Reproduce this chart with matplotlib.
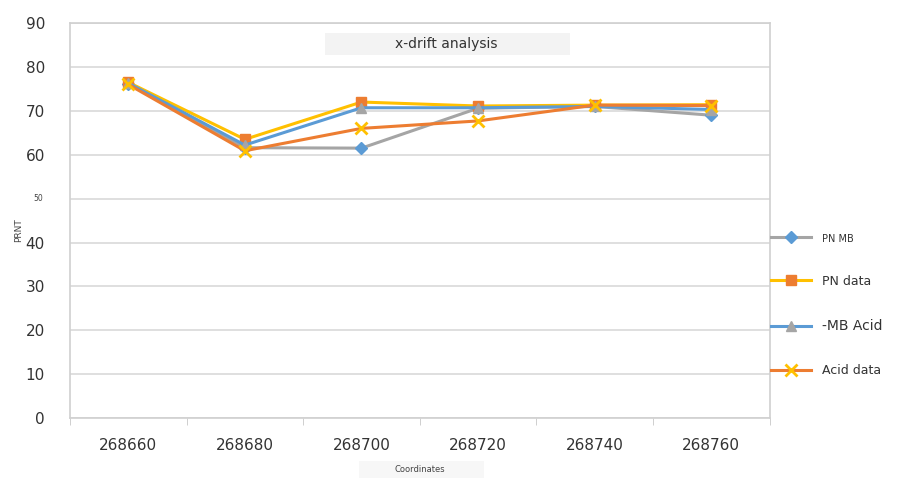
import matplotlib.pyplot as plt
from matplotlib.patches import Rectangle

# x-drift data
coords = ['268660', '268680', '268700', '268720', '268740', '268760']
pn_mb = [76.2, 61.6, 61.5, 70.6, 71.0, 69.0]
pn_data = [76.5, 63.5, 72.0, 71.1, 71.3, 71.4]
mb_acid = [76.3, 62.2, 70.7, 70.7, 71.0, 70.3]
acid_data = [76.0, 60.9, 66.0, 67.7, 71.3, 71.2]
y_ticks = [0, 10, 20, 30, 40, 50, 60, 70, 80, 90]

blue = '#5B9BD5'
orange = '#ED7D31'
gray = '#A5A5A5'
yellow = '#FFC000'

fig = plt.figure(figsize=(8.97, 4.8), dpi=100)
ax = fig.add_axes([0.078, 0.129, 0.780, 0.823])

x = range(len(coords))
ax.plot(x, pn_mb, color=gray, lw=2.2, marker='D', ms=6,
        mfc=blue, mec=blue, label='PN MB')
ax.plot(x, pn_data, color=yellow, lw=2.2, marker='s', ms=7,
        mfc=orange, mec=orange, label='PN data')
ax.plot(x, mb_acid, color=blue, lw=2.2, marker='^', ms=7,
        mfc=gray, mec=gray, label='-MB Acid')
ax.plot(x, acid_data, color=orange, lw=2.2, marker='x', ms=8, mew=2,
        mfc=yellow, mec=yellow, label='Acid data')

ax.set_xlim(-0.5, len(coords) - 0.5)
ax.set_ylim(0, 90)
ax.set_yticks(y_ticks)
ax.set_yticklabels([str(v) if v != 50 else '' for v in y_ticks])
ax.set_xticks(list(x))
ax.set_xticklabels(coords)
ax.set_xticks([i - 0.5 for i in range(len(coords) + 1)], minor=True)
ax.tick_params(axis='x', which='major', length=0, pad=14, labelsize=11,
               labelcolor='#333333')
ax.tick_params(axis='x', which='minor', length=5, color='#c8c8c8')
ax.tick_params(axis='y', length=0, pad=18, labelsize=11, labelcolor='#333333')
ax.grid(axis='y', color='#d9d9d9', lw=1.2)
ax.set_axisbelow(True)
for s in ax.spines.values():
    s.set_color('#d0d0d0')
    s.set_linewidth(1.2)

# small odd labels from the original figure
fig.text(0.037, 0.582, '50', fontsize=5.5, color='#444444')
fig.text(0.021, 0.52, 'PRNT', rotation=90, fontsize=6.5, color='#444444',
         ha='center', va='center')

ax.add_patch(Rectangle((1.685, 82.7), 2.1, 5.0, facecolor='#f3f3f3',
                       edgecolor='none', zorder=1))
ax.text(2.73, 85.2, 'x-drift analysis', ha='center', va='center',
        fontsize=10, color='#333333', zorder=2)

fig.patches.append(Rectangle((0.40, 0.005), 0.14, 0.035, facecolor='#f7f7f7',
                             edgecolor='none', transform=fig.transFigure))
fig.text(0.468, 0.022, 'Coordinates', ha='center', va='center', fontsize=6,
         color='#444444')

leg = ax.legend(loc='center left', bbox_to_anchor=(0.995, 0.286), frameon=False,
                handlelength=3.2, labelspacing=2.5, fontsize=9,
                borderaxespad=0, handletextpad=0.9)
for t, fs in zip(leg.get_texts(), [7, 9, 10, 9]):
    t.set_color('#333333')
    t.set_fontsize(fs)

fig.savefig('out.png', dpi=100)
